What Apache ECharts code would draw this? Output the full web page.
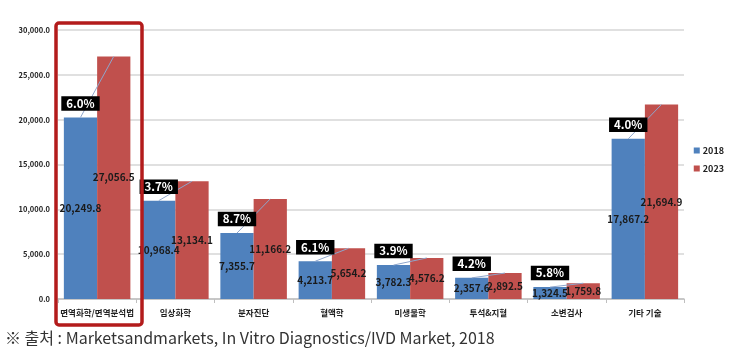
<!DOCTYPE html>
<html><head><meta charset="utf-8">
<script src="https://cdn.jsdelivr.net/npm/echarts@6/dist/echarts.min.js"></script>
<style>html,body{margin:0;padding:0;background:#fff}#c{width:731px;height:364px}</style>
</head><body><div id="c"></div>
<script>
const categories = ['면역화학/면역분석법','임상화학','분자진단','혈액학','미생물학','투석&지혈','소변검사','기타 기술'];
const v2018 = [20249.8, 10968.4, 7355.7, 4213.7, 3782.3, 2357.6, 1324.5, 17867.2];
const v2023 = [27056.5, 13134.1, 11166.2, 5654.2, 4576.2, 2892.5, 1759.8, 21694.9];
const cagr = ['6.0%','3.7%','8.7%','6.1%','3.9%','4.2%','5.8%','4.0%'];
const seriesNames = ['2018','2023'];
const yTicks = {min:0, max:30000, interval:5000};
const source = '※ 출처 : Marketsandmarkets, In Vitro Diagnostics/IVD Market, 2018';

const FONT = '"Noto Sans CJK KR","Noto Sans",sans-serif';
const fmt = v => v.toLocaleString('en-US',{minimumFractionDigits:1,maximumFractionDigits:1});
const CAT_GAP = 0.15;

const chart = echarts.init(document.getElementById('c'));
const labelCfg = {show:true, position:'inside', color:'#1a1a1a', fontWeight:'bold', fontSize:10, fontFamily:FONT, formatter:p=>fmt(p.value)};
chart.setOption({
  animation:false,
  textStyle:{fontFamily:FONT},
  grid:{left:58, right:47, top:30, bottom:65},
  legend:{orient:'vertical', right:2, top:141, itemWidth:6, itemHeight:6, itemGap:9,
    icon:'rect', textStyle:{fontSize:9, fontWeight:'bold', color:'#222', padding:[0,0,0,-2]}, data:seriesNames},
  xAxis:{type:'category', data:categories,
    axisLine:{lineStyle:{color:'#bfbfbf', width:1.5}},
    axisTick:{show:true, length:4, lineStyle:{color:'#bfbfbf'}},
    axisLabel:{fontSize:8.5, fontWeight:'bold', color:'#222', margin:10, interval:0}},
  yAxis:{type:'value', min:yTicks.min, max:yTicks.max, interval:yTicks.interval,
    axisLine:{show:false}, axisTick:{show:false},
    splitLine:{lineStyle:{color:'#d6d6d6', width:1.5}},
    axisLabel:{fontSize:7.5, fontWeight:'bold', color:'#222', margin:8, formatter:v=>fmt(v)}},
  series:[
    {name:seriesNames[0], type:'bar', data:v2018, itemStyle:{color:'#4F81BD'}, barGap:'0%', barCategoryGap:(CAT_GAP*100)+'%', label:labelCfg, z:2},
    {name:seriesNames[1], type:'bar', data:v2023, itemStyle:{color:'#C0504D'}, barGap:'0%', barCategoryGap:(CAT_GAP*100)+'%', label:labelCfg, z:2},
    {type:'custom', z:5, silent:true,
      data: categories.map((c,i)=>[i, v2018[i], v2023[i]]),
      encode:{x:0, y:1},
      renderItem:(params, api)=>{
        const i = api.value(0);
        const band = api.size([1,0])[0];
        const bw = band*(1-CAT_GAP)/2;
        const pb = api.coord([i, api.value(1)]);
        const pr = api.coord([i, api.value(2)]);
        const xb = pb[0]-bw/2, xr = pr[0]+bw/2;
        return {type:'group', children:[
          {type:'line', shape:{x1:xb, y1:pb[1], x2:xr, y2:pr[1]}, style:{stroke:'#8fa6cc', lineWidth:1}},
          {type:'text', x:xb, y:pb[1]-14, style:{text:cagr[i], fill:'#fff', backgroundColor:'#000',
            padding:[2,5,1,5], font:'bold 11.5px '+FONT, align:'center', verticalAlign:'middle'}}
        ]};
      }}
  ],
  graphic:[
    {type:'rect', z:100, shape:{x:56, y:23, width:86, height:302, r:3}, style:{fill:'none', stroke:'#B31B1B', lineWidth:3.5}},
    {type:'text', z:100, left:5, top:330, style:{text:source, fill:'#333', font:'16px '+FONT}}
  ]
});
</script></body></html>
